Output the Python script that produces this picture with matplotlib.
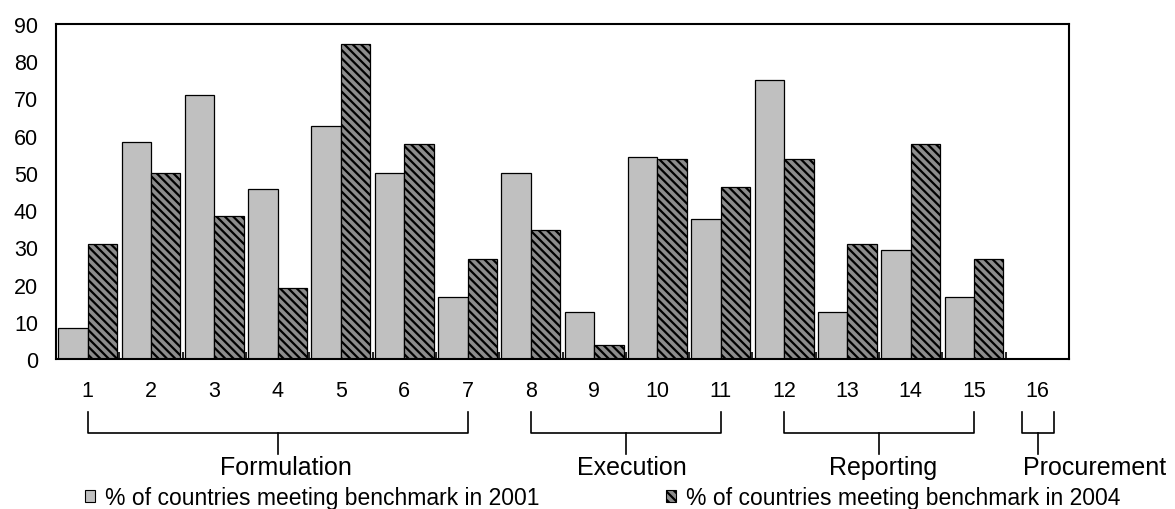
import numpy as np
import matplotlib
matplotlib.use("Agg")
import matplotlib.pyplot as plt
from matplotlib.patches import Patch
from matplotlib.transforms import blended_transform_factory

plt.rcParams['font.family'] = ['Liberation Sans', 'DejaVu Sans']
plt.rcParams['hatch.linewidth'] = 1.6
plt.rcParams['hatch.color'] = 'black'

# Data
indicators = [str(i) for i in range(1, 17)]
pct_2001 = [8.3, 58.3, 70.8, 45.8, 62.5, 50.0, 16.7, 50.0, 12.5, 54.2, 37.5, 75.0, 12.5, 29.2, 16.7, 0]
pct_2004 = [30.8, 50.0, 38.5, 19.2, 84.6, 57.7, 26.9, 34.6, 3.8, 53.8, 46.2, 53.8, 30.8, 57.7, 26.9, 0]
label_2001 = '% of countries meeting benchmark in 2001'
label_2004 = '% of countries meeting benchmark in 2004'

# Groups: (name, first indicator index, last indicator index, label x, label alignment)
group_names = ['Formulation', 'Execution', 'Reporting', 'Procurement']
group_start = [0, 7, 11, 14.75]
group_end = [6, 10, 14, 15.27]
group_label_x = [3.13, 8.6, 12.56, 14.77]
group_label_ha = ['center', 'center', 'center', 'left']

fig = plt.figure(figsize=(11.75, 5.10), dpi=100)
ax = fig.add_axes([56 / 1175, 1 - 360 / 510, (1069 - 56) / 1175, (360 - 25) / 510])

x = np.arange(len(indicators))
w = 0.465
ax.bar(x - w / 2, pct_2001, width=w, color='#c0c0c0', edgecolor='black', linewidth=0.9)
ax.bar(x + w / 2, pct_2004, width=w, color='#8c8c8c', edgecolor='black', linewidth=0.9,
       hatch='\\\\\\\\')

ax.set_xlim(-0.5, len(indicators) - 0.5)
ax.set_ylim(0, 90)
ax.set_yticks(range(0, 91, 10))
ax.tick_params(axis='y', length=0, pad=13, labelsize=15.5)
ax.set_xticks(x)
ax.set_xticklabels(indicators)
ax.tick_params(axis='x', which='major', length=0, pad=15, labelsize=15.5)
ax.set_xticks(np.arange(-0.5, len(indicators), 1), minor=True)
ax.tick_params(axis='x', which='minor', direction='in', length=5, width=1.2)
for s in ax.spines.values():
    s.set_linewidth(1.5)

# Brackets below the axis
tr = blended_transform_factory(ax.transData, fig.transFigure)
y_top, y_mid, y_stem = 1 - 413 / 510, 1 - 434 / 510, 1 - 455 / 510
for name, a, b, lx, ha in zip(group_names, group_start, group_end, group_label_x, group_label_ha):
    ax.plot([a, a, b, b], [y_top, y_mid, y_mid, y_top], color='black', lw=1.2,
            transform=tr, clip_on=False)
    c = (a + b) / 2
    ax.plot([c, c], [y_mid, y_stem], color='black', lw=1.2, transform=tr, clip_on=False)
    ax.text(lx, 1 - 475 / 510, name, transform=tr, ha=ha, va='baseline', fontsize=18)

handles = [Patch(facecolor='#c0c0c0', edgecolor='black', linewidth=0.8),
           Patch(facecolor='#8c8c8c', edgecolor='black', linewidth=0.8, hatch='\\\\\\\\')]
fig.legend(handles, [label_2001, label_2004], loc='center left',
           bbox_to_anchor=(85 / 1175, 1 - 499 / 510), ncol=2, frameon=False,
           fontsize=16.5, borderpad=0, borderaxespad=0, handlelength=0.43,
           handleheight=0.43, handletextpad=0.45, columnspacing=5.5)

fig.savefig('out.png', dpi=100)
